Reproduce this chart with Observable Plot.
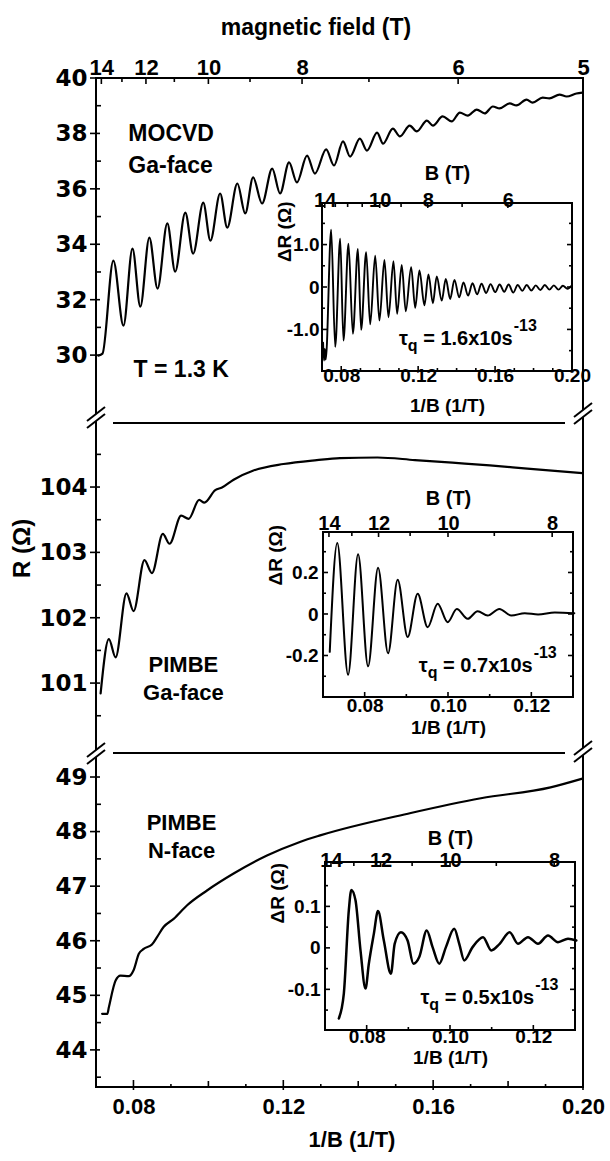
<!DOCTYPE html>
<html>
<head>
<meta charset="utf-8">
<script src="https://cdn.jsdelivr.net/npm/d3@7"></script>
<script src="https://cdn.jsdelivr.net/npm/@observablehq/plot@0.6"></script>
<style>
html,body{margin:0;padding:0;background:#fff;}
#chart{position:relative;width:610px;height:1161px;overflow:hidden;background:#fff;}
#chart svg{position:absolute;left:0;}
</style>
</head>
<body>
<div id="chart"></div>
<script>
// ---------------- data ----------------
// main panel 1: MOCVD Ga-face, R (Ohm) vs 1/B (1/T)
const mocvdInvB = [0.0705, 0.0716, 0.0745, 0.0772, 0.0796, 0.0817, 0.0841, 0.0863, 0.0889, 0.0910, 0.0937, 0.0958, 0.0985, 0.1004, 0.1030, 0.1049, 0.1076, 0.1097, 0.1118, 0.1142, 0.1169, 0.1190, 0.1214, 0.1235, 0.1262, 0.1283, 0.1313, 0.1334, 0.1358, 0.1377, 0.1403, 0.1422, 0.1449, 0.1465, 0.1491, 0.1510, 0.1536, 0.1555, 0.1582, 0.1598, 0.1624, 0.1648, 0.1670, 0.1691, 0.1715, 0.1736, 0.1758, 0.1776, 0.1803, 0.1821, 0.1848, 0.1864, 0.1891, 0.1909, 0.1936, 0.1955, 0.1981, 0.1997];
const mocvdR = [30.00, 30.07, 33.43, 31.08, 33.86, 31.77, 34.26, 32.42, 34.77, 33.03, 35.16, 33.68, 35.52, 34.15, 35.85, 34.62, 36.21, 35.13, 36.43, 35.49, 36.75, 35.85, 36.97, 36.25, 37.22, 36.57, 37.44, 36.86, 37.73, 37.18, 37.83, 37.40, 38.05, 37.65, 38.19, 37.91, 38.30, 38.09, 38.48, 38.30, 38.63, 38.45, 38.77, 38.66, 38.88, 38.74, 38.99, 38.92, 39.10, 39.03, 39.24, 39.13, 39.31, 39.28, 39.42, 39.35, 39.46, 39.49];
// main panel 2: PIMBE Ga-face
const gaFaceInvB = [0.0711, 0.0733, 0.0751, 0.0780, 0.0799, 0.0828, 0.0848, 0.0877, 0.0895, 0.0926, 0.0946, 0.0974, 0.0988, 0.1017, 0.1035, 0.1066, 0.1119, 0.1199, 0.1288, 0.1350, 0.1450, 0.1550, 0.1650, 0.1750, 0.1850, 0.1997];
const gaFaceR = [100.85, 101.68, 101.40, 102.38, 102.11, 102.89, 102.69, 103.29, 103.14, 103.57, 103.52, 103.81, 103.77, 103.96, 104.00, 104.12, 104.26, 104.36, 104.42, 104.45, 104.46, 104.42, 104.38, 104.34, 104.29, 104.22];
// main panel 3: PIMBE N-face
const nFaceInvB = [0.0715, 0.0729, 0.0733, 0.0751, 0.0764, 0.0786, 0.0799, 0.0813, 0.0826, 0.0848, 0.0862, 0.0879, 0.0906, 0.0942, 0.0995, 0.1066, 0.1155, 0.1243, 0.1297, 0.1539, 0.1726, 0.1912, 0.1997];
const nFaceR = [44.67, 44.67, 44.79, 45.28, 45.37, 45.36, 45.47, 45.77, 45.86, 45.94, 46.08, 46.26, 46.41, 46.66, 46.93, 47.24, 47.57, 47.82, 47.94, 48.35, 48.62, 48.82, 48.98];
// inset 1: MOCVD delta R
const inset1InvB = [0.0703, 0.0708, 0.0712, 0.0717, 0.0745, 0.0766, 0.0792, 0.0809, 0.0835, 0.0858, 0.0884, 0.0901, 0.0927, 0.0948, 0.0974, 0.0996, 0.1022, 0.1043, 0.1069, 0.1088, 0.1112, 0.1133, 0.1161, 0.1182, 0.1204, 0.1230, 0.1251, 0.1274, 0.1294, 0.1320, 0.1341, 0.1364, 0.1386, 0.1411, 0.1433, 0.1457, 0.1480, 0.1504, 0.1527, 0.1551, 0.1574, 0.1598, 0.1621, 0.1645, 0.1668, 0.1692, 0.1715, 0.1739, 0.1762, 0.1786, 0.1809, 0.1833, 0.1856, 0.1880, 0.1903, 0.1927, 0.1950, 0.1974, 0.1997];
const inset1dR = [-1.30, -1.72, -1.45, -1.70, 1.36, -1.40, 1.15, -1.25, 1.03, -1.09, 0.91, -1.00, 0.83, -0.87, 0.75, -0.78, 0.65, -0.70, 0.62, -0.62, 0.53, -0.56, 0.48, -0.48, 0.40, -0.42, 0.31, -0.37, 0.26, -0.31, 0.20, -0.27, 0.18, -0.23, 0.12, -0.19, 0.10, -0.16, 0.09, -0.13, 0.08, -0.11, 0.07, -0.10, 0.07, -0.12, 0.06, -0.08, 0.06, -0.07, 0.05, -0.06, 0.06, -0.05, 0.05, -0.05, 0.04, -0.03, 0.05];
// inset 2: PIMBE Ga-face delta R
const inset2InvB = [0.0715, 0.0733, 0.0759, 0.0783, 0.0807, 0.0831, 0.0855, 0.0878, 0.0902, 0.0926, 0.0950, 0.0974, 0.0998, 0.1020, 0.1046, 0.1070, 0.1094, 0.1122, 0.1151, 0.1183, 0.1215, 0.1255, 0.1302];
const inset2dR = [-0.18, 0.344, -0.29, 0.29, -0.25, 0.225, -0.187, 0.167, -0.109, 0.10, -0.061, 0.052, -0.037, 0.026, -0.021, 0.016, -0.005, 0.027, -0.005, 0.006, 0.0, 0.01, 0.006];
// inset 3: PIMBE N-face delta R
const inset3InvB = [0.0732, 0.0744, 0.0756, 0.0762, 0.0772, 0.0784, 0.0796, 0.0804, 0.0816, 0.0826, 0.0840, 0.0857, 0.0866, 0.0881, 0.0897, 0.0911, 0.0925, 0.0943, 0.0957, 0.0973, 0.0989, 0.1009, 0.1021, 0.1033, 0.1053, 0.1078, 0.1098, 0.1118, 0.1142, 0.1162, 0.1186, 0.1210, 0.1234, 0.1258, 0.1282, 0.1302];
const inset3dR = [-0.169, -0.109, 0.092, 0.141, 0.116, -0.005, -0.097, -0.037, 0.035, 0.09, 0.019, -0.061, 0.011, 0.039, 0.019, -0.037, -0.021, 0.043, 0.003, -0.037, 0.003, 0.047, 0.011, -0.029, 0.003, 0.027, -0.005, 0.011, 0.039, 0.011, 0.027, 0.011, 0.031, 0.015, 0.023, 0.019];
const tauValues = ["1.6", "0.7", "0.5"];

// tick values
const fieldLabels = [14, 12, 10, 8, 6, 5];
const fieldMinor = [13, 11, 9, 7];
const invBLabels = [0.08, 0.12, 0.16, 0.20];
const invBMid = [0.10, 0.14, 0.18];
const invBSmall = [0.09, 0.11, 0.13, 0.15, 0.17, 0.19];
const r1Ticks = [30, 32, 34, 36, 38, 40], r1Minor = [31, 33, 35, 37, 39];
const r2Ticks = [101, 102, 103, 104], r2Minor = [100.5, 101.5, 102.5, 103.5, 104.5];
const r3Ticks = [44, 45, 46, 47, 48, 49], r3Minor = [43.5, 44.5, 45.5, 46.5, 47.5, 48.5];
const in1Field = [14, 10, 8, 6], in1FieldMinor = [13, 12, 11, 9, 7, 5];
const in1InvB = [0.08, 0.12, 0.16, 0.20], in1InvBMinor = [0.09, 0.10, 0.11, 0.13, 0.14, 0.15, 0.17, 0.18, 0.19];
const in1Y = [-1, 0, 1], in1YLabels = ["-1.0", "0", "1.0"], in1YMinor = [-1.5, -0.5, 0.5, 1.5];
const in23Field = [14, 12, 10, 8], in23FieldMinor = [13, 11, 9];
const in23InvB = [0.08, 0.10, 0.12], in23InvBMinor = [0.09, 0.11];
const in2Y = [-0.2, 0, 0.2], in2YLabels = ["-0.2", "0", "0.2"], in2YMinor = [-0.3, -0.1, 0.1, 0.3];
const in3Y = [-0.1, 0, 0.1], in3YLabels = ["-0.1", "0", "0.1"], in3YMinor = [-0.15, -0.05, 0.05, 0.15];

// ---------------- helpers ----------------
const F = "'Liberation Sans', Arial, Helvetica, sans-serif";
const FW = "'DejaVu Sans', Verdana, sans-serif";
const txt = (size, family = F) => ({fontSize: size, fontWeight: "bold", fontFamily: family, fill: "#000"});
const rows = (xs, ys) => xs.map((b, i) => ({b, r: ys[i]}));
const STYLE = "background: transparent; overflow: visible;";

function box(dims) {
  return {L: dims.marginLeft, R: dims.width - dims.marginRight, T: dims.marginTop, B: dims.height - dims.marginBottom};
}
function ticks(axis, values, side, inLen, outLen = 0, sw = 1.6) {
  return (index, scales, vals, dims) => {
    const {L, R, T, B} = box(dims);
    const g = d3.create("svg:g").attr("stroke", "#000").attr("stroke-width", sw);
    for (const v of values) {
      if (axis === "x") {
        const p = scales.x(v);
        const [a, b] = side === "bottom" ? [B - inLen, B + outLen] : [T + inLen, T - outLen];
        g.append("line").attr("x1", p).attr("x2", p).attr("y1", a).attr("y2", b);
      } else {
        const p = scales.y(v);
        const [a, b] = side === "left" ? [L + inLen, L - outLen] : [R - inLen, R + outLen];
        g.append("line").attr("y1", p).attr("y2", p).attr("x1", a).attr("x2", b);
      }
    }
    return g.node();
  };
}
function frame({left = false, right = false, top = null, bottom = false, sw = 2}) {
  return (index, scales, vals, dims) => {
    const {L, R, T, B} = box(dims);
    const g = d3.create("svg:g").attr("stroke", "#000").attr("stroke-width", sw).attr("stroke-linecap", "square");
    if (left) g.append("line").attr("x1", L).attr("x2", L).attr("y1", T).attr("y2", B);
    if (right) g.append("line").attr("x1", R).attr("x2", R).attr("y1", T).attr("y2", B);
    if (top === "full") g.append("line").attr("x1", L).attr("x2", R).attr("y1", T).attr("y2", T);
    if (top === "short") g.append("line").attr("x1", L + 17).attr("x2", R - 18).attr("y1", T).attr("y2", T).attr("stroke-linecap", "butt");
    if (bottom) g.append("line").attr("x1", L).attr("x2", R).attr("y1", B).attr("y2", B);
    return g.node();
  };
}
function breaks(offL, offR) {
  return (index, scales, vals, dims) => {
    const {L, R, T} = box(dims);
    const g = d3.create("svg:g");
    for (const [cx, cy] of [[L, T + offL], [R, T + offR]]) {
      g.append("polygon").attr("points", `${cx-9},${cy+3.5} ${cx+9},${cy-10.5} ${cx+9},${cy-3.5} ${cx-9},${cy+10.5}`).attr("fill", "#fff");
      g.append("line").attr("x1", cx - 9).attr("y1", cy + 3.5).attr("x2", cx + 9).attr("y2", cy - 10.5).attr("stroke", "#000").attr("stroke-width", 2);
      g.append("line").attr("x1", cx - 9).attr("y1", cy + 10.5).attr("x2", cx + 9).attr("y2", cy - 3.5).attr("stroke", "#000").attr("stroke-width", 2);
    }
    return g.node();
  };
}
function tauLabel(x0, y0, val) {
  return (index, scales) => {
    const t = d3.create("svg:text").attr("x", scales.x(x0)).attr("y", scales.y(y0))
      .attr("text-anchor", "start")
      .attr("font-family", F).attr("font-weight", "bold").attr("font-size", 20).attr("fill", "#000");
    t.append("tspan").text("τ");
    t.append("tspan").attr("dy", 6).attr("font-size", 16).text("q");
    t.append("tspan").attr("dy", -6).text(" = " + val + "x10s");
    t.append("tspan").attr("dy", -14).attr("dx", 1).attr("font-size", 16).text("-13");
    return t.node();
  };
}
function place(svg, top) {
  svg.style.position = "absolute";
  svg.style.top = top + "px";
  svg.style.left = "0px";
  document.getElementById("chart").appendChild(svg);
}

const X_MAIN = [0.07, 0.20];
const curveStroke = {stroke: "#000", strokeWidth: 2.2, curve: "monotone-x"};

// ---------------- panel 1 ----------------
place(Plot.plot({
  width: 610, height: 423, marginTop: 78, marginBottom: 0, marginLeft: 96, marginRight: 27,
  style: STYLE,
  x: {domain: X_MAIN, axis: null}, y: {domain: [27.55, 40], axis: null},
  marks: [
    Plot.line(rows(mocvdInvB, mocvdR), {x: "b", y: "r", ...curveStroke}),
    frame({left: true, right: true, top: "full"}),
    ticks("x", fieldLabels.map(d => 1 / d), "top", 6),
    ticks("x", fieldMinor.map(d => 1 / d), "top", 4),
    ticks("y", r1Ticks, "left", 4, 6),
    ticks("y", r1Minor, "left", 5, 0),
    Plot.text(fieldLabels, {x: d => 1 / d, text: d => String(d), frameAnchor: "top", dy: -19, ...txt(22)}),
    Plot.text(["magnetic field (T)"], {frameAnchor: "top", dy: -60, dx: -24, text: d => d, ...txt(23)}),
    Plot.text(r1Ticks, {y: d => d, text: d => String(d), frameAnchor: "left", dx: -9, textAnchor: "end", ...txt(23, FW)}),
    Plot.text(["MOCVD", "Ga-face"], {x: [0.0785, 0.0785], y: [38.01, 36.86], text: d => d, textAnchor: "start", ...txt(23)}),
    Plot.text(["T = 1.3 K"], {x: [0.0799], y: [29.49], text: d => d, textAnchor: "start", ...txt(23)})
  ]
}), 0);

// ---------------- panel 2 ----------------
place(Plot.plot({
  width: 610, height: 330, marginTop: 0, marginBottom: 0, marginLeft: 96, marginRight: 27,
  style: STYLE,
  x: {domain: X_MAIN, axis: null}, y: {domain: [99.93, 104.98], axis: null},
  marks: [
    Plot.line(rows(gaFaceInvB, gaFaceR), {x: "b", y: "r", ...curveStroke}),
    frame({left: true, right: true, top: "short"}),
    breaks(-5.5, -9.5),
    ticks("y", r2Ticks, "left", 4, 6),
    ticks("y", r2Minor, "left", 5, 0),
    Plot.text(r2Ticks, {y: d => d, text: d => String(d), frameAnchor: "left", dx: -9, textAnchor: "end", ...txt(23, FW)}),
    Plot.text(["R (Ω)"], {x: [0.07], y: [103.07], dx: -74, rotate: -90, text: d => d, ...txt(24)}),
    Plot.text(["PIMBE", "Ga-face"], {x: [0.0932, 0.0932], y: [101.28, 100.85], text: d => d, ...txt(22)})
  ]
}), 423);

// ---------------- panel 3 ----------------
place(Plot.plot({
  width: 610, height: 408, marginTop: 0, marginBottom: 74, marginLeft: 96, marginRight: 27,
  style: STYLE,
  x: {domain: X_MAIN, axis: null}, y: {domain: [43.32, 49.44], axis: null},
  marks: [
    Plot.line(rows(nFaceInvB, nFaceR), {x: "b", y: "r", ...curveStroke}),
    frame({left: true, right: true, top: "short", bottom: true}),
    breaks(0.5, -1.5),
    ticks("y", r3Ticks, "left", 4, 6),
    ticks("y", r3Minor, "left", 5, 0),
    ticks("x", invBLabels, "bottom", 7, 3),
    ticks("x", invBMid, "bottom", 6, 0),
    ticks("x", invBSmall, "bottom", 3, 0),
    Plot.text(r3Ticks, {y: d => d, text: d => String(d), frameAnchor: "left", dx: -9, textAnchor: "end", ...txt(23, FW)}),
    Plot.text(invBLabels, {x: d => d, text: d => d.toFixed(2), frameAnchor: "bottom", dy: 26, ...txt(22)}),
    Plot.text(["1/B (1/T)"], {frameAnchor: "bottom", dy: 59, dx: 12, text: d => d, ...txt(22)}),
    Plot.text(["PIMBE", "N-face"], {x: [0.0927, 0.0927], y: [48.16, 47.66], text: d => d, ...txt(22)})
  ]
}), 753);

// ---------------- insets ----------------
function inset({top, height, mt, mb, ml, mr, xDom, yDom, data, curve, sw, field, fieldMinor, invB, invBMinor, yT, yL, yMinor,
                fieldDy, bDy, invDy, titleDy, ylabDx, ylabY, tickDx, tau, tauX, tauY}) {
  place(Plot.plot({
    width: 610, height, marginTop: mt, marginBottom: mb, marginLeft: ml, marginRight: mr,
    style: STYLE,
    x: {domain: xDom, axis: null}, y: {domain: yDom, axis: null},
    marks: [
      Plot.line(data, {x: "b", y: "r", stroke: "#000", strokeWidth: sw, curve}),
      frame({left: true, right: true, top: "full", bottom: true}),
      ticks("x", field.map(d => 1 / d), "top", 5),
      ticks("x", fieldMinor.map(d => 1 / d), "top", 4),
      ticks("x", invB, "bottom", 5),
      ticks("x", invBMinor, "bottom", 3),
      ticks("y", yT, "left", 5), ticks("y", yMinor, "left", 3),
      ticks("y", yT, "right", 5), ticks("y", yMinor, "right", 3),
      Plot.text(field, {x: d => 1 / d, text: d => String(d), frameAnchor: "top", dy: fieldDy, ...txt(20)}),
      Plot.text(["B (T)"], {frameAnchor: "top", dy: bDy, text: d => d, ...txt(20)}),
      Plot.text(invB, {x: d => d, text: d => d.toFixed(2), frameAnchor: "bottom", dy: invDy, ...txt(19)}),
      Plot.text(["1/B (1/T)"], {frameAnchor: "bottom", dy: titleDy, text: d => d, ...txt(19)}),
      Plot.text(yT, {y: d => d, text: (d, i) => yL[i], frameAnchor: "left", dx: tickDx, textAnchor: "end", ...txt(19)}),
      Plot.text(["ΔR (Ω)"], {frameAnchor: "left", y: [ylabY], dx: ylabDx, rotate: -90, text: d => d, ...txt(19)}),
      tauLabel(tauX, tauY, tau)
    ]
  }), top);
}

inset({top: 140, height: 281, mt: 63, mb: 50, ml: 322, mr: 38, xDom: [0.07, 0.20], yDom: [-1.98, 1.98],
  data: rows(inset1InvB, inset1dR), curve: "monotone-x", sw: 1.9,
  field: in1Field, fieldMinor: in1FieldMinor, invB: in1InvB, invBMinor: in1InvBMinor,
  yT: in1Y, yL: in1YLabels, yMinor: in1YMinor,
  fieldDy: -10.5, bDy: -38, invDy: 10, titleDy: 40, ylabDx: -38, ylabY: 0.6, tickDx: -3,
  tau: tauValues[0], tauX: 0.1100, tauY: -1.365});

inset({top: 480, height: 270, mt: 52, mb: 53, ml: 323, mr: 37, xDom: [0.07, 0.13], yDom: [-0.40, 0.395],
  data: rows(inset2InvB, inset2dR), curve: "monotone-x", sw: 2,
  field: in23Field, fieldMinor: in23FieldMinor, invB: in23InvB, invBMinor: in23InvBMinor,
  yT: in2Y, yL: in2YLabels, yMinor: in2YMinor,
  fieldDy: -16.5, bDy: -42, invDy: 14, titleDy: 36, ylabDx: -48, ylabY: 0.14, tickDx: -5,
  tau: tauValues[1], tauX: 0.0930, tauY: -0.28});

inset({top: 810, height: 270, mt: 52, mb: 50, ml: 325, mr: 35, xDom: [0.07, 0.13], yDom: [-0.198, 0.207],
  data: rows(inset3InvB, inset3dR), curve: "monotone-x", sw: 2.5,
  field: in23Field, fieldMinor: in23FieldMinor, invB: in23InvB, invBMinor: in23InvBMinor,
  yT: in3Y, yL: in3YLabels, yMinor: in3YMinor,
  fieldDy: -9.5, bDy: -32, invDy: 12, titleDy: 33, ylabDx: -48, ylabY: 0.06, tickDx: -5,
  tau: tauValues[2], tauX: 0.0929, tauY: -0.135});
</script>
</body>
</html>
